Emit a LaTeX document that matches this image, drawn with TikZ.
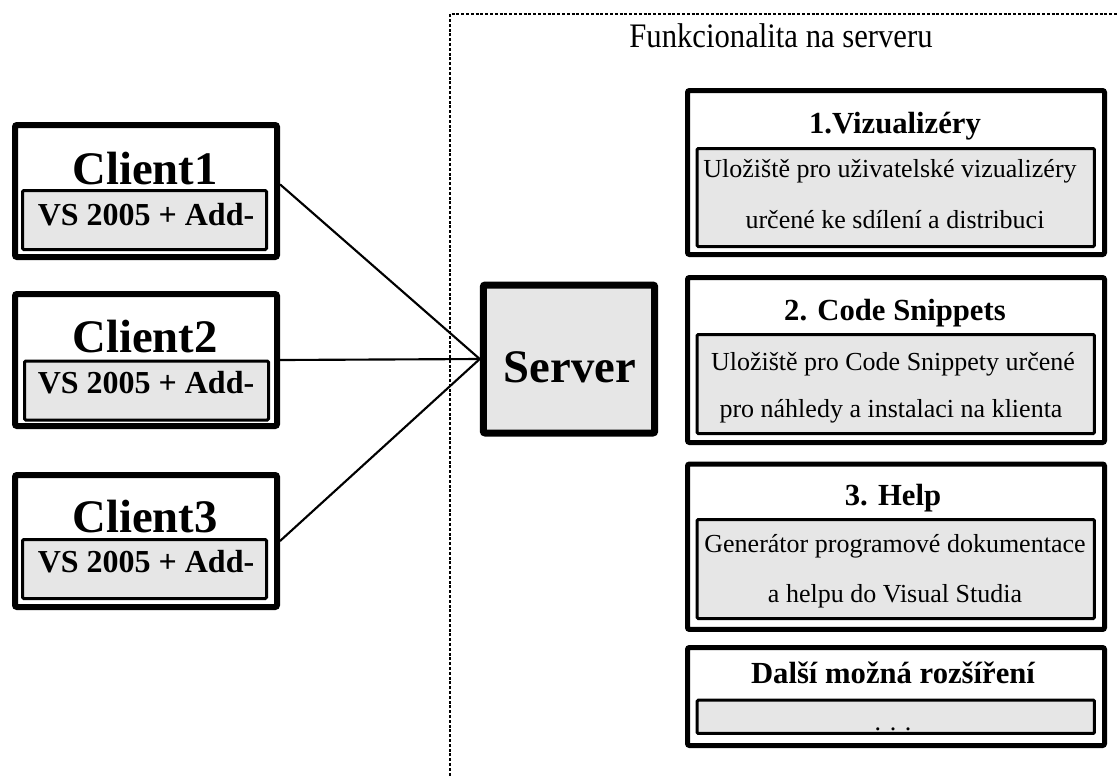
\documentclass[tikz,border=0pt]{standalone}
\usepackage{fontspec}
\setmainfont{Liberation Serif}
\definecolor{boxgray}{RGB}{230,230,230}
\tikzset{
  clientouter/.style={draw, line width=4.5pt, fill=white, rounded corners=1.5pt, inner sep=0pt, minimum width=196.5pt, minimum height=99pt},
  clientinner/.style={draw, line width=2.25pt, fill=boxgray, rounded corners=1pt, inner sep=0pt, minimum width=183pt, minimum height=44.25pt},
  serverbox/.style={draw, line width=5.25pt, fill=boxgray, rounded corners=1.5pt, inner sep=0pt, minimum width=128.6pt, minimum height=111pt},
  funcouter/.style={draw, line width=3.75pt, fill=white, rounded corners=1.5pt, inner sep=0pt, minimum width=312.75pt},
  funcinner/.style={draw, line width=2.25pt, fill=boxgray, rounded corners=1pt, inner sep=0pt, minimum width=298.1pt},
  txt/.style={inner sep=0pt, anchor=base},
  clienttitle/.style={txt, font=\fontsize{35}{40}\selectfont\bfseries},
  clientsub/.style={txt, font=\fontsize{24}{28}\selectfont\bfseries},
  servertitle/.style={txt, font=\fontsize{35}{40}\selectfont\bfseries},
  functitle/.style={txt, font=\fontsize{23}{27}\selectfont\bfseries},
  funcbody/.style={txt, font=\fontsize{19.5}{23}\selectfont},
  headtitle/.style={txt, font=\fontsize{23}{27}\selectfont, yscale=1.12},
  conn/.style={line width=1.6pt},
  region/.style={line width=1.2pt, dash pattern=on 2.2pt off 1.4pt}
}
\begin{document}
\begin{tikzpicture}[x=0.75pt,y=-0.75pt]
\useasboundingbox (0,0) rectangle (1117,776);

% dashed server region
\draw[region] (450,790) -- (450,14) -- (1130,14);
\node[headtitle] (head) at (781,47) {Funkcionalita na serveru};

% clients
\node[clientouter] (c1) at (146,191) {};
\node[clientinner] (c1i) at (144.5,220) {};
\node[clienttitle] (c1t) at (145,184) {Client1};
\node[clientsub] (c1s) at (146,225) {VS 2005 + Add-};

\node[clientouter] (c2) at (146,360) {};
\node[clientinner] (c2i) at (146.5,390.5) {};
\node[clienttitle] (c2t) at (145,352) {Client2};
\node[clientsub] (c2s) at (146,393) {VS 2005 + Add-};

\node[clientouter] (c3) at (146,541) {};
\node[clientinner] (c3i) at (144.5,569) {};
\node[clienttitle] (c3t) at (145,532) {Client3};
\node[clientsub] (c3s) at (146,572) {VS 2005 + Add-};

% server
\node[serverbox] (srv) at (569,359) {};
\node[servertitle] (srvt) at (570,382) {Server};

% connectors
\draw[conn] ([yshift=5pt]c1.east) -- (srv.west);
\draw[conn] (c2.east) -- (srv.west);
\draw[conn] (c3.east) -- (srv.west);

% function boxes
\node[funcouter, minimum height=123pt] (f1) at (896,172.5) {};
\node[funcinner, minimum height=73.5pt] (f1i) at (895.75,197.5) {};
\node[functitle] (f1t) at (895,133) {1.Vizualizéry};
\node[funcbody] (f1a) at (890,177) {Uložiště pro uživatelské vizualizéry};
\node[funcbody] (f1b) at (895,228) {určené ke sdílení a distribuci};

\node[funcouter, minimum height=123.75pt] (f2) at (896,360) {};
\node[funcinner, minimum height=74.25pt] (f2i) at (895.75,384) {};
\node[functitle] (f2t) at (895,320) {2. Code Snippets};
\node[funcbody] (f2a) at (893,370) {Uložiště pro Code Snippety určené};
\node[funcbody] (f2b) at (891,417) {pro náhledy a instalaci na klienta};

\node[funcouter, minimum height=124.1pt] (f3) at (896,546.75) {};
\node[funcinner, minimum height=74.25pt] (f3i) at (895.75,569) {};
\node[functitle] (f3t) at (893,505) {3. Help};
\node[funcbody] (f3a) at (895,552) {Generátor programové dokumentace};
\node[funcbody] (f3b) at (895,602) {a helpu do Visual Studia};

\node[funcouter, minimum height=73.5pt] (f4) at (896,696.5) {};
\node[funcinner, minimum height=25.1pt] (f4i) at (895.75,716.75) {};
\node[functitle] (f4t) at (893,683) {Další možná rozšíření};
\node[funcbody] (f4a) at (893,730) {. . .};
\end{tikzpicture}
\end{document}
